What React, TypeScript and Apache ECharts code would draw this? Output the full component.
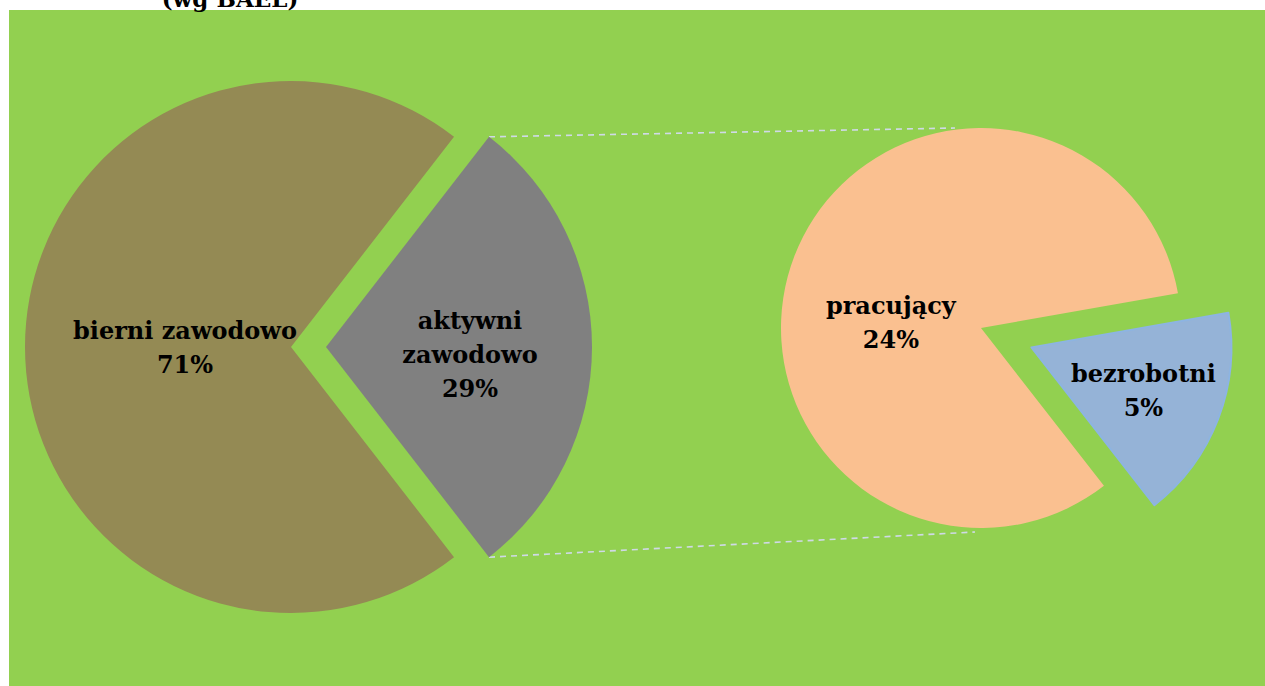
import React, { useEffect, useRef } from "react";
import * as echarts from "echarts";

const titleText = "(wg BAEL)";
const mainCategories = ["aktywni zawodowo", "bierni zawodowo"];
const mainLabels = ["aktywni\nzawodowo", "bierni zawodowo"];
const mainValues = [29, 71];
const subCategories = ["bezrobotni", "pracujący"];
const subValues = [5, 24];
const mainColors = ["#808080", "#948A54"];
const subColors = ["#95B3D7", "#FAC090"];

const FONT = "'DejaVu Serif', 'Liberation Serif', serif";

export default function App() {
  const ref = useRef<HTMLDivElement>(null);

  useEffect(() => {
    if (!ref.current) return;
    const chart = echarts.init(ref.current, undefined, { renderer: "svg" });

    const total = mainValues.reduce((a, b) => a + b, 0);
    const c1 = [291, 347];
    const r1 = 266;
    const off1 = 35;
    const half1 = (mainValues[0] / total) * 180; // half angle of "other" slice
    const c2 = [981, 328];
    const r2 = 200;
    const subStart = 10;

    // connector line endpoints computed from geometry
    const a = (half1 * Math.PI) / 180;
    const gx = c1[0] + off1;
    const topStart = [gx + r1 * Math.cos(a), c1[1] - r1 * Math.sin(a)];
    const botStart = [gx + r1 * Math.cos(a), c1[1] + r1 * Math.sin(a)];
    const topEnd = [c2[0] - 26, c2[1] - r2];
    const botEnd = [c2[0] - 6, c2[1] + r2 + 4];

    const labelStyle = {
      fontFamily: FONT,
      fontWeight: "bold" as const,
      fontSize: 24,
      lineHeight: 34,
      color: "#000000",
      align: "center" as const,
    };

    const lineStyle = {
      stroke: "#CFD9E6",
      lineWidth: 1.6,
      lineDash: [6, 5],
    };

    const mainOffsets = [[11, 7], [30, 0]];
    const subOffsets = [[12, -18], [6, 31]];

    chart.setOption({
      animation: false,
      backgroundColor: "#ffffff",
      graphic: [
        {
          type: "rect",
          z: -10,
          shape: { x: 9, y: 10, width: 1256, height: 676 },
          style: { fill: "#92D050" },
        },
        {
          type: "text",
          x: 230,
          y: 10,
          style: {
            text: titleText,
            fontFamily: FONT,
            fontWeight: "bold",
            fontSize: 23,
            fill: "#000000",
            align: "center",
            verticalAlign: "bottom",
          },
        },
        {
          type: "line",
          shape: { x1: topStart[0], y1: topStart[1], x2: topEnd[0], y2: topEnd[1] },
          style: lineStyle,
        },
        {
          type: "line",
          shape: { x1: botStart[0], y1: botStart[1], x2: botEnd[0], y2: botEnd[1] },
          style: lineStyle,
        },
      ],
      series: [
        {
          type: "pie",
          center: c1,
          radius: r1,
          startAngle: half1,
          clockwise: true,
          selectedMode: "single",
          selectedOffset: off1,
          avoidLabelOverlap: false,
          labelLine: { show: false },
          emphasis: { disabled: true },
          data: mainCategories.map((name, i) => {
            const label = {
              show: true,
              position: "inside",
              formatter: mainLabels[i] + "\n" + Math.round((mainValues[i] / total) * 100) + "%",
              offset: mainOffsets[i],
              ...labelStyle,
            };
            return {
              name,
              value: mainValues[i],
              selected: i === 0,
              itemStyle: { color: mainColors[i], borderWidth: 0 },
              label,
              select: { itemStyle: { color: mainColors[i], borderWidth: 0 }, label },
            };
          }),
        },
        {
          type: "pie",
          center: c2,
          radius: r2,
          startAngle: subStart,
          clockwise: true,
          selectedMode: "single",
          selectedOffset: 54,
          avoidLabelOverlap: false,
          labelLine: { show: false },
          emphasis: { disabled: true },
          data: subCategories.map((name, i) => {
            const itemStyle = {
              color: subColors[i],
              borderColor: i === 0 ? "#8DB4E2" : subColors[i],
              borderWidth: i === 0 ? 2 : 0,
            };
            const label = {
              show: true,
              position: "inside",
              formatter: name + "\n" + Math.round((subValues[i] / total) * 100) + "%",
              offset: subOffsets[i],
              ...labelStyle,
            };
            return {
              name,
              value: subValues[i],
              selected: i === 0,
              itemStyle,
              label,
              select: { itemStyle, label },
            };
          }),
        },
      ],
    });

    return () => chart.dispose();
  }, []);

  return (
    <div
      ref={ref}
      style={{ position: "fixed", left: 0, top: 0, width: 1265, height: 686 }}
    />
  );
}
